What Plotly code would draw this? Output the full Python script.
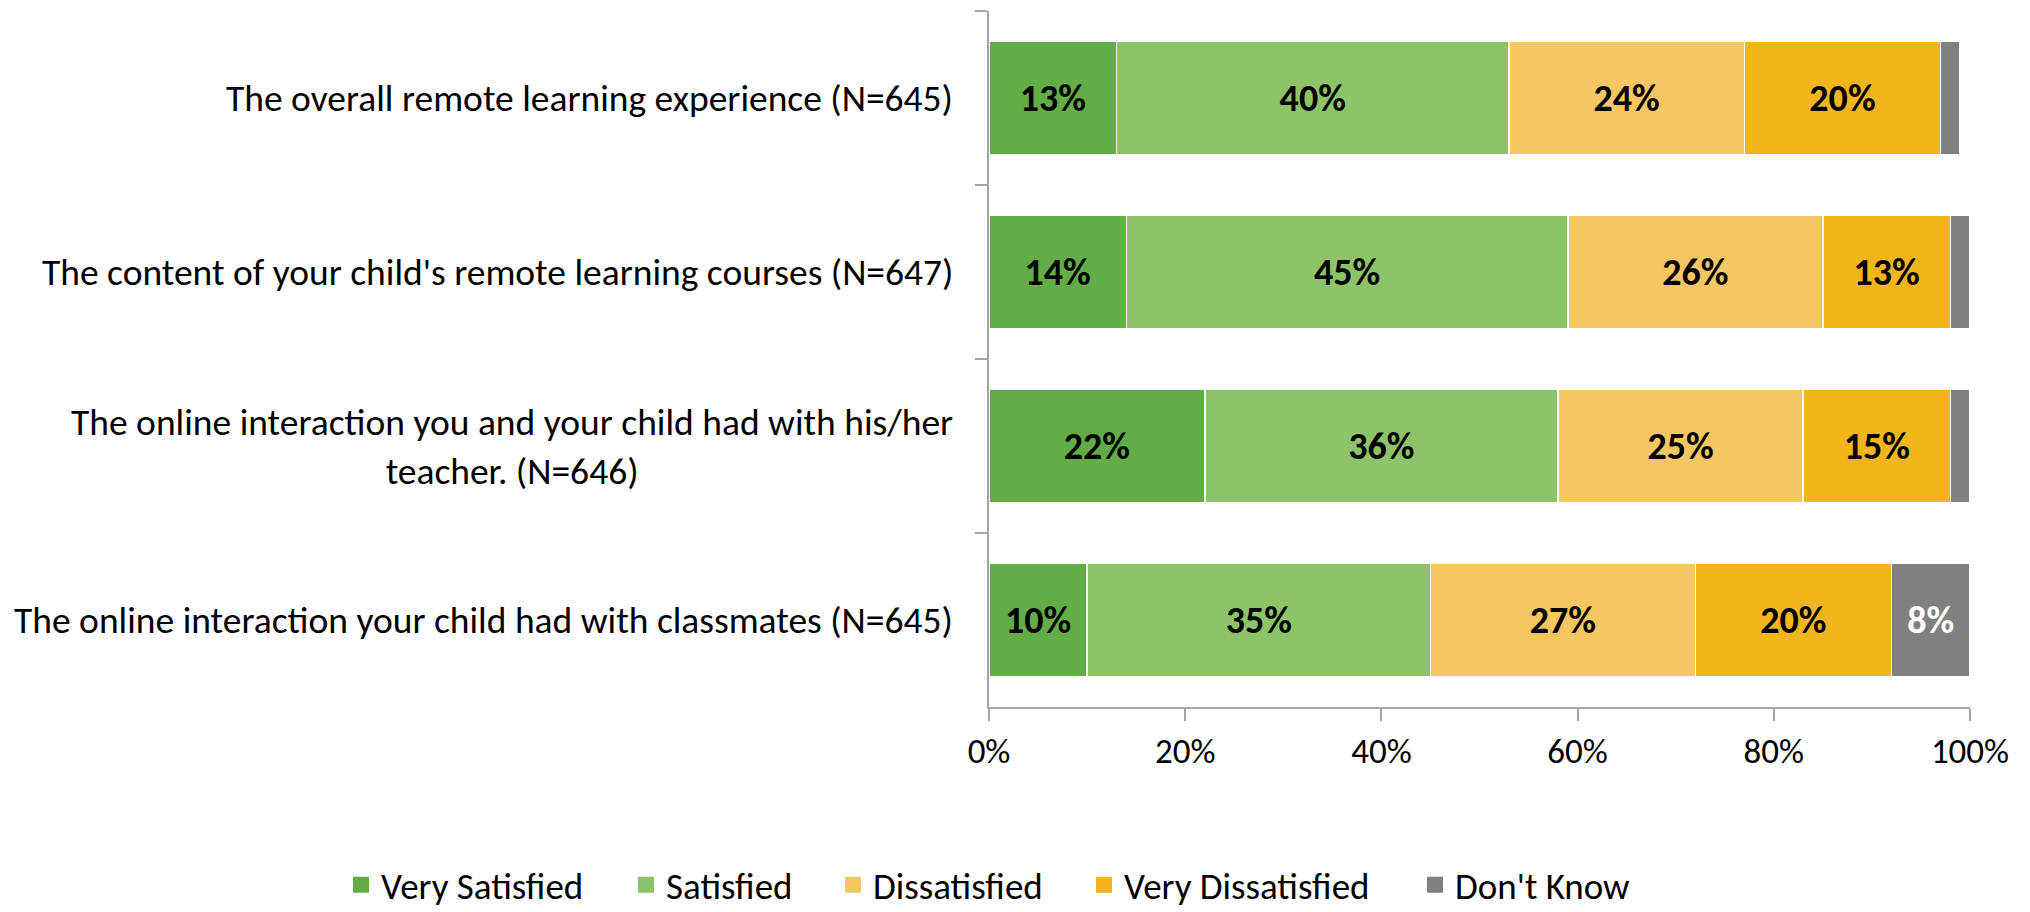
import plotly.graph_objects as go

categories = [
    "The overall remote learning experience (N=645)",
    "The content of your child's remote learning courses (N=647)",
    "The online interaction you and your child had with his/her<br>teacher. (N=646)",
    "The online interaction your child had with classmates (N=645)",
]
series_names = ["Very Satisfied", "Satisfied", "Dissatisfied", "Very Dissatisfied", "Don't Know"]
very_satisfied = [13, 14, 22, 10]
satisfied = [40, 45, 36, 35]
dissatisfied = [24, 26, 25, 27]
very_dissatisfied = [20, 13, 15, 20]
dont_know = [2, 2, 2, 8]
tick_vals = [0, 20, 40, 60, 80, 100]
tick_text = ["0%", "20%", "40%", "60%", "80%", "100%"]

colors = ["#62AD46", "#8DC468", "#F6C663", "#F2B61C", "#808080"]
text_colors = ["#000000", "#000000", "#000000", "#000000", "#FFFFFF"]
FONT = "Carlito, Calibri, Lato, sans-serif"
# page body has an 8px default margin, so the figure is 8px smaller than the window
W, H = 2022, 904
# legend swatch centres (px) for each entry
legend_centres = [363, 648, 855, 1106, 1437]
legend_names = ["legend", "legend2", "legend3", "legend4", "legend5"]

fig = go.Figure()
for name, vals, col, tcol, lg in zip(series_names,
                                     [very_satisfied, satisfied, dissatisfied, very_dissatisfied, dont_know],
                                     colors, text_colors, legend_names):
    fig.add_trace(go.Bar(
        name=name, y=categories, x=vals, orientation="h", showlegend=False,
        marker=dict(color=col, line=dict(color="white", width=1.5)),
        text=[f"{v}%" if v >= 5 else "" for v in vals],
        textposition="inside", insidetextanchor="middle", textangle=0,
        textfont=dict(family=FONT, size=38, color=tcol, weight="bold"),
    ))
    # legend-only entry with a larger square swatch
    fig.add_trace(go.Scatter(
        name=name, x=[None], y=[None], mode="markers", legend=lg, showlegend=True,
        marker=dict(symbol="square", size=16, color=col, line=dict(width=0)),
        hoverinfo="skip",
    ))

for c in categories:
    fig.add_annotation(
        xref="paper", yref="y", x=0, y=c, text=c, showarrow=False,
        xanchor="right", yanchor="middle", align="center", xshift=-34,
        font=dict(family=FONT, size=37.5, color="#000000"),
    )

legend_style = dict(orientation="h", xref="container", yref="container",
                    y=0.064, xanchor="left", yanchor="top",
                    font=dict(family=FONT, size=37, color="#000000"),
                    bgcolor="rgba(0,0,0,0)", borderwidth=0)
layout_legends = {}
for lg, cx in zip(legend_names, legend_centres):
    layout_legends[lg] = dict(legend_style, x=(cx - 30) / W)

fig.update_layout(
    barmode="stack", bargap=0.345,
    width=W, height=H,
    margin=dict(l=981, r=60, t=3, b=205, autoexpand=False),
    paper_bgcolor="white", plot_bgcolor="white",
    font=dict(family=FONT, size=37, color="#000000"),
    showlegend=True,
    **layout_legends,
)
fig.update_xaxes(range=[0, 100], tickvals=tick_vals, ticktext=tick_text, automargin=False,
                 showgrid=False, zeroline=False, showline=True, linecolor="#A6A6A6", linewidth=1.5,
                 ticks="outside", ticklen=12, tickcolor="#A6A6A6", tickwidth=1.5,
                 tickfont=dict(family=FONT, size=35, color="#000000"))
fig.update_yaxes(autorange="reversed", showticklabels=False, showgrid=False, automargin=False,
                 showline=True, linecolor="#A6A6A6", linewidth=1.5,
                 ticks="outside", ticklen=12, tickcolor="#A6A6A6", tickwidth=1.5,
                 tickson="boundaries")

fig.write_html("out.html")
